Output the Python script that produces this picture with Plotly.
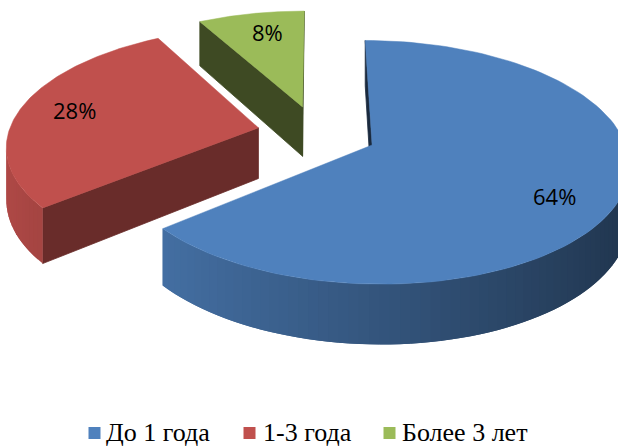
import numpy as np
import plotly.graph_objects as go

# ---- data -------------------------------------------------------------
categories = ["До 1 года", "1-3 года", "Более 3 лет"]
shares = [64, 28, 8]

# ---- style ------------------------------------------------------------
top_colors = ["#4F81BD", "#C0504D", "#9BBB59"]
cut_shade = [0.33, 0.55, 0.40]        # darkening of the radial cut faces
label_nudge_deg = [6, 1, 2]           # small angular shift of the % labels

W, H = 618, 448
CX, CY = 317, 133          # projected centre of the pie
RX, RY = 250, 116          # radii of the top ellipse
PERSP = 0.14               # perspective strength (back is smaller)
THICK = 51                 # height of the disc
EXPLODE = 0.24             # every slice is pulled out by this fraction
LABEL_R = 0.78

LEG_SQ_X = [94.5, 249.5, 389.5]
LEG_TX_X = [105, 262, 401]
LEG_SQ_Y = 433


def proj(u, v, h=0.0):
    """Project a point of the disc plane (u right, v back, h down) to pixels."""
    z = 1 + PERSP * v
    return CX + RX * u / z, CY - (RY * v - THICK * h) / z


def hex_rgb(c):
    c = c.lstrip("#")
    return tuple(int(c[i:i + 2], 16) for i in (0, 2, 4))


def shade(c, f):
    r, g, b = hex_rgb(c)
    return "rgb(%d,%d,%d)" % (min(255, r * f), min(255, g * f), min(255, b * f))


def signed_area(xs, ys):
    s = 0.0
    for i in range(len(xs)):
        j = (i + 1) % len(xs)
        s += xs[i] * ys[j] - xs[j] * ys[i]
    return s / 2


fig = go.Figure()


def poly(xs, ys, color, lw=0.8):
    fig.add_trace(go.Scatter(
        x=list(xs) + [xs[0]], y=list(ys) + [ys[0]], mode="lines",
        fill="toself", fillcolor=color,
        line=dict(color=color, width=lw),
        hoverinfo="skip", showlegend=False))


# angles measured clockwise from 12 o'clock
total = float(sum(shares))
bounds = np.concatenate([[0], np.cumsum(shares)]) / total * 2 * np.pi
slices = []
for i, s in enumerate(shares):
    ts, te = bounds[i], bounds[i + 1]
    mid = (ts + te) / 2
    au, av = EXPLODE * np.sin(mid), EXPLODE * np.cos(mid)
    slices.append(dict(i=i, ts=ts, te=te, mid=mid, au=au, av=av))

# paint back slices first
for sl in sorted(slices, key=lambda d: -d["av"]):
    i, ts, te, au, av = sl["i"], sl["ts"], sl["te"], sl["au"], sl["av"]
    col = top_colors[i]

    def rim(t):
        return au + np.sin(t), av + np.cos(t)

    # radial cut faces (start: apex->rim, end: rim->apex)
    for (p, q) in [((au, av), rim(ts)), (rim(te), (au, av))]:
        xa, ya = proj(*p, 0)
        xb, yb = proj(*q, 0)
        xc, yc = proj(*q, 1)
        xd, yd = proj(*p, 1)
        xs, ys = [xa, xb, xc, xd], [ya, yb, yc, yd]
        if signed_area(xs, ys) < 0:
            poly(xs, ys, shade(col, cut_shade[i]))

    # curved outer wall, in thin overlapping strips
    n = max(4, int(np.degrees(te - ts) / 2.0))
    step = (te - ts) / n
    for k in range(n):
        a = ts + k * step
        b = min(te, a + 2 * step)       # overlap hides the seams
        sa, sb = rim(a), rim(a + step)
        if signed_area(*zip(*[proj(*sa, 0), proj(*sb, 0),
                              proj(*sb, 1), proj(*sa, 1)])) >= 0:
            continue
        tt = np.linspace(a, b, 4)
        top = [proj(*rim(t), 0) for t in tt]
        bot = [proj(*rim(t), 1) for t in tt[::-1]]
        xs, ys = zip(*(top + bot))
        f = 0.66 - 0.26 * np.sin(a + step / 2)
        poly(xs, ys, shade(col, f), lw=0)

    # top face
    tt = np.linspace(ts, te, 120)
    pts = [(au, av)] + [rim(t) for t in tt]
    xs, ys = zip(*[proj(u, v, 0) for u, v in pts])
    poly(xs, ys, col, lw=0.5)

    # percentage label
    la = sl["mid"] + np.radians(label_nudge_deg[i])
    lx, ly = proj(au + LABEL_R * np.sin(la), av + LABEL_R * np.cos(la), 0)
    fig.add_annotation(x=lx, y=ly, text=f"{shares[i]}%", showarrow=False,
                       font=dict(family="Open Sans", size=22, color="black"),
                       xanchor="center", yanchor="middle")

# legend
fig.add_trace(go.Scatter(
    x=LEG_SQ_X, y=[LEG_SQ_Y] * 3, mode="markers",
    marker=dict(symbol="square", size=12, color=top_colors, line=dict(width=0)),
    hoverinfo="skip", showlegend=False))
for k, name in enumerate(categories):
    fig.add_annotation(x=LEG_TX_X[k], y=H, text=name, showarrow=False,
                       font=dict(family="Liberation Serif", size=26, color="black"),
                       xanchor="left", yanchor="bottom", borderpad=0)

fig.update_layout(
    width=W, height=H,
    margin=dict(l=0, r=0, t=0, b=0),
    paper_bgcolor="white", plot_bgcolor="white",
    xaxis=dict(range=[0, W], visible=False, fixedrange=True),
    yaxis=dict(range=[H, 0], visible=False, fixedrange=True),
    showlegend=False,
)

fig.write_html("out.html")
